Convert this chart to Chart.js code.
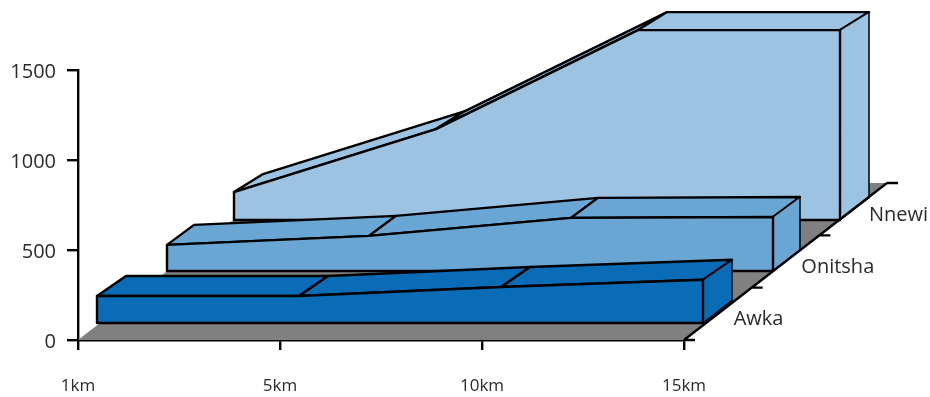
<!DOCTYPE html>
<html>
<head>
<meta charset="utf-8">
<style>
    html, body { margin: 0; padding: 0; background: #fff; }
    canvas { display: block; }
</style>
</head>
<body>
<canvas id="chart" width="930" height="397"></canvas>
<script src="https://cdn.jsdelivr.net/npm/chart.js@4/dist/chart.umd.min.js"></script>
<script>
const categories = ['1km', '5km', '10km', '15km'];
const seriesNames = ['Awka', 'Onitsha', 'Nnewi'];
const awka = [150, 150, 200, 240];
const onitsha = [145, 195, 295, 300];
const nnewi = [155, 505, 1055, 1055];
const yTicks = [0, 500, 1000, 1500];

const seriesValues = [awka, onitsha, nnewi];
const seriesColors = ['#0a6cb7', '#6aa6d3', '#9dc3e3'];

// where each series sits on the depth axis, in px from the x axis
const slots = [
    { x: 19, y: -17, dx: 29, dy: -20 },
    { x: 89, y: -69, dx: 27, dy: -20 },
    { x: 156, y: -120, dx: 29, dy: -18 }
];
const floorDx = 203;
const floorDy = -157;

const fontFamily = "'Open Sans', sans-serif";
const textColor = '#2b2b2b';

function poly(ctx, pts, fill, lineWidth) {
    ctx.beginPath();
    pts.forEach((p, i) => i ? ctx.lineTo(p[0], p[1]) : ctx.moveTo(p[0], p[1]));
    ctx.closePath();
    ctx.fillStyle = fill;
    ctx.fill();
    ctx.lineWidth = lineWidth;
    ctx.strokeStyle = '#000';
    ctx.stroke();
}

const box3d = {
    id: 'box3d',
    beforeDatasetsDraw(chart) {
        const { ctx, chartArea, scales } = chart;
        const left = chartArea.left, right = chartArea.right;
        const base = scales.y.getPixelForValue(0);
        ctx.save();
        ctx.lineJoin = 'round';

        // grey floor
        ctx.beginPath();
        ctx.moveTo(left, base);
        ctx.lineTo(right, base);
        ctx.lineTo(right + floorDx, base + floorDy);
        ctx.lineTo(left + floorDx, base + floorDy);
        ctx.closePath();
        ctx.fillStyle = '#808080';
        ctx.fill();

        // back to front so the near series covers the far one
        for (let s = seriesValues.length - 1; s >= 0; s--) {
            const slot = slots[s];
            const bottom = base + slot.y;
            const front = chart.getDatasetMeta(s).data.map(el => [el.x + slot.x, el.y + slot.y]);
            const back = front.map(p => [p[0] + slot.dx, p[1] + slot.dy]);
            const last = front.length - 1;

            // top faces
            for (let i = 0; i < last; i++) {
                poly(ctx, [front[i], front[i + 1], back[i + 1], back[i]], seriesColors[s], 2.4);
            }

            // side face, its foot follows the depth axis
            const footDy = slot.dx * floorDy / floorDx;
            poly(ctx, [
                front[last], back[last],
                [back[last][0], bottom + footDy],
                [front[last][0], bottom]
            ], seriesColors[s], 1.5);

            // front face
            poly(ctx, [
                ...front,
                [front[last][0], bottom],
                [front[0][0], bottom]
            ], seriesColors[s], 2.4);
        }

        // depth axis with its ticks and labels
        ctx.strokeStyle = '#000';
        ctx.lineWidth = 2.4;
        ctx.beginPath();
        ctx.moveTo(right, base);
        ctx.lineTo(right + floorDx, base + floorDy);
        for (let k = 0; k <= seriesNames.length; k++) {
            const tx = right + floorDx * k / seriesNames.length;
            const ty = base + floorDy * k / seriesNames.length;
            ctx.moveTo(tx, ty);
            ctx.lineTo(tx + 11, ty);
        }
        ctx.stroke();

        ctx.font = '20px ' + fontFamily;
        ctx.fillStyle = textColor;
        ctx.textAlign = 'left';
        ctx.textBaseline = 'middle';
        seriesNames.forEach((name, k) => {
            const tx = right + floorDx * (k + 1) / seriesNames.length;
            const ty = base + floorDy * (k + 1) / seriesNames.length;
            ctx.fillText(name, tx - 18, ty + 32);
        });
        ctx.restore();
    }
};

new Chart(document.getElementById('chart'), {
    type: 'line',
    data: {
        labels: categories,
        datasets: seriesValues.map((values, s) => ({
            label: seriesNames[s],
            data: values,
            showLine: false,
            pointRadius: 0,
            backgroundColor: seriesColors[s]
        }))
    },
    options: {
        responsive: false,
        animation: false,
        layout: { padding: { top: 70, right: 246, left: 0, bottom: 0 } },
        plugins: {
            legend: { display: false },
            tooltip: { enabled: false }
        },
        scales: {
            x: {
                type: 'category',
                offset: false,
                z: 1,
                afterFit(axis) { axis.height = 57; },
                border: { color: '#000', width: 2.4 },
                grid: { drawOnChartArea: false, color: '#000', lineWidth: 2.4, tickLength: 10 },
                ticks: {
                    color: textColor,
                    font: { family: fontFamily, size: 17 },
                    padding: 26,
                    maxRotation: 0,
                    autoSkip: false
                }
            },
            y: {
                type: 'linear',
                min: 0,
                max: 1500,
                z: 1,
                afterFit(axis) { axis.width = 78; },
                afterBuildTicks(axis) { axis.ticks = yTicks.map(v => ({ value: v })); },
                border: { color: '#000', width: 2.4 },
                grid: { drawOnChartArea: false, color: '#000', lineWidth: 2.4, tickLength: 11 },
                ticks: {
                    color: textColor,
                    font: { family: fontFamily, size: 20 },
                    padding: 11,
                    labelOffset: 2,
                    callback: value => String(value)
                }
            }
        }
    },
    plugins: [box3d]
});
</script>
</body>
</html>
